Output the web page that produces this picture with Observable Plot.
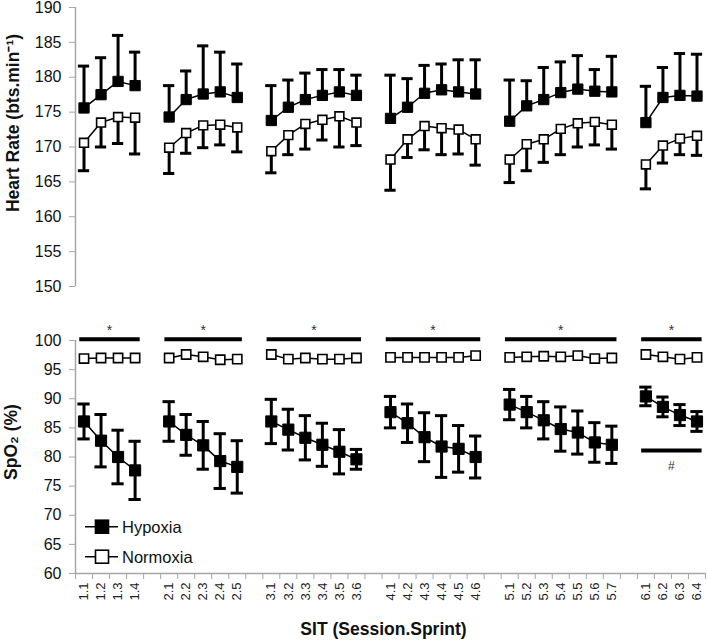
<!DOCTYPE html>
<html><head><meta charset="utf-8">
<script src="https://cdn.jsdelivr.net/npm/d3@7"></script>
<script src="https://cdn.jsdelivr.net/npm/@observablehq/plot@0.6"></script>
<style>
body{margin:0;background:#fff;font-family:"Liberation Sans",Arial,sans-serif;}
#chart{position:relative;width:708px;height:640px;overflow:hidden;}
#chart svg{display:block;}
g[aria-label^="data"]{filter:drop-shadow(1.2px 1.8px 1.2px rgba(0,0,0,0.35));}
</style></head><body><div id="chart"></div>
<script>
// x slots ("" = gap between sessions)
const slots = ["1.1","1.2","1.3","1.4","",
  "2.1","2.2","2.3","2.4","2.5","",
  "3.1","3.2","3.3","3.4","3.5","3.6","",
  "4.1","4.2","4.3","4.4","4.5","4.6","",
  "5.1","5.2","5.3","5.4","5.5","5.6","5.7","",
  "6.1","6.2","6.3","6.4"];
const sprints = slots.filter(s => s !== "");

// Heart rate (bpm)
const hrHyp   = [175.6,177.5,179.4,178.8, 174.3,176.8,177.6,177.9,177.1, 173.8,175.7,176.8,177.4,177.9,177.4,
                 174.1,175.7,177.7,178.2,177.9,177.6, 173.7,175.9,176.8,177.8,178.3,178.0,177.9, 173.5,177.1,177.4,177.3];
const hrHypSD = [6.0,5.3,6.6,4.8, 4.5,4.1,6.9,5.7,4.8, 5.0,3.9,3.8,3.7,3.2,2.9,
                 6.2,4.1,4.0,3.7,4.6,4.9, 5.9,3.6,4.6,4.4,4.8,3.1,5.1, 5.2,4.3,6.0,6.0];
const hrNor   = [170.6,173.5,174.3,174.2, 169.9,172.0,173.1,173.2,172.8, 169.4,171.7,173.3,173.9,174.4,173.5,
                 168.2,171.1,173.0,172.7,172.5,171.1, 168.2,170.4,171.1,172.6,173.4,173.6,173.2, 167.5,170.2,171.2,171.6];
const hrNorSD = [4.0,3.5,3.8,5.2, 3.7,2.9,3.2,2.9,3.5, 3.1,2.8,3.6,2.9,4.4,3.3,
                 4.4,2.6,3.4,3.8,3.5,3.7, 3.3,3.8,3.3,3.7,3.4,3.3,3.5, 3.5,2.5,2.3,2.8];

// SpO2 (%)
const spHyp   = [86.1,82.8,80.0,77.7, 86.1,83.8,82.0,79.3,78.3, 86.1,84.7,83.3,82.1,80.9,79.6,
                 87.7,85.8,83.4,81.8,81.4,80.0, 89.0,87.7,86.3,84.8,84.2,82.5,82.1, 90.4,88.6,87.2,86.1];
const spHypSD = [3.0,4.5,4.6,5.0, 3.4,3.5,4.1,4.7,4.5, 3.8,3.5,3.8,3.7,3.8,1.7,
                 2.7,3.3,4.2,5.3,4.0,3.6, 2.6,2.7,3.2,3.8,3.7,3.4,3.2, 1.6,1.7,1.8,1.7];
const spNor   = [96.9,97.0,97.0,97.0, 97.0,97.6,97.2,96.7,96.8, 97.6,96.8,97.0,96.8,96.8,97.0,
                 97.1,97.1,97.1,97.1,97.1,97.4, 97.1,97.2,97.3,97.2,97.4,96.9,97.0, 97.6,97.2,96.8,97.1];

// annotations
const starSessions = ["1","2","3","4","5","6"];
const hashSessions = ["6"];
const starLevel = 100.2, starTextLevel = 101.7;
const hashLevel = 81.1, hashTextLevel = 78.5;

const hrTicks = d3.range(150, 191, 5);
const spTicks = d3.range(60, 101, 5);
const hrDomain = [150, 190];
const spDomain = [60, 100];

const yTitleTop = "Heart Rate (bts.min\u207B\u00B9)";
const yTitleBottom = "SpO\u2082 (%)";
const xTitle = "SIT (Session.Sprint)";
const legendItems = [{label: "Hypoxia", fill: "#000"}, {label: "Normoxia", fill: "#fff"}];

// ---------- build ----------
const session = s => s.split(".")[0];
const rows = sprints.map((s, i) => ({
  s, pos: slots.indexOf(s), grp: session(s),
  hrHyp: hrHyp[i], hrHypSD: hrHypSD[i], hrNor: hrNor[i], hrNorSD: hrNorSD[i],
  spHyp: spHyp[i], spHypSD: spHypSD[i], spNor: spNor[i]
}));
const span = g => {
  const xs = rows.filter(r => r.grp === g).map(r => r.pos);
  return {g, x1: d3.min(xs), x2: d3.max(xs), mid: (d3.min(xs) + d3.max(xs)) / 2};
};
const starBars = starSessions.map(span);
const hashBars = hashSessions.map(span);

const W = 708, ML = 75, MR = 3;
const xDomain = [-0.5, slots.length - 0.5];
const GRAY = "#a6a6a6";
const FONT = "'Liberation Sans', Arial, sans-serif";
const cap = 0.33;

const connect = (key) => Plot.line(rows, {
  x: d => d.pos, y: d => d[key], z: d => d.grp,
  stroke: "black", strokeWidth: 1.5, fill: "none"
});

const topPlot = Plot.plot({
  width: W, height: 295, marginTop: 7, marginBottom: 9, marginLeft: ML, marginRight: MR,
  x: {domain: xDomain, axis: null},
  y: {domain: hrDomain, axis: null},
  style: {fontFamily: FONT, color: "#000", background: "#fff", overflow: "visible"},
  marks: [
    Plot.ruleX([xDomain[0]], {stroke: GRAY, strokeWidth: 1.5}),
    Plot.axisY({ticks: hrTicks, tickSize: 6, tickPadding: 8, stroke: GRAY, fill: "#111", fontSize: 16, label: null}),
    Plot.text([yTitleTop], {frameAnchor: "left", textAnchor: "middle", lineAnchor: "middle", rotate: -90, dx: -62, dy: -24, fontWeight: "bold", fontSize: 17.5, fill: "#111"}),
    // error bars
    Plot.ruleX(rows, {x: "pos", y1: "hrHyp", y2: d => d.hrHyp + d.hrHypSD, strokeWidth: 3, ariaLabel: "data-err"}),
    Plot.ruleY(rows, {y: d => d.hrHyp + d.hrHypSD, x1: d => d.pos - cap, x2: d => d.pos + cap, strokeWidth: 3, ariaLabel: "data-cap"}),
    Plot.ruleX(rows, {x: "pos", y1: "hrNor", y2: d => d.hrNor - d.hrNorSD, strokeWidth: 3, ariaLabel: "data-err"}),
    Plot.ruleY(rows, {y: d => d.hrNor - d.hrNorSD, x1: d => d.pos - cap, x2: d => d.pos + cap, strokeWidth: 3, ariaLabel: "data-cap"}),
    // lines
    connect("hrHyp"),
    connect("hrNor"),
    // markers
    Plot.dot(rows, {x: "pos", y: "hrHyp", symbol: "square", r: 5.8, fill: "#000", stroke: "#000", strokeWidth: 1, ariaLabel: "data-dot"}),
    Plot.dot(rows, {x: "pos", y: "hrNor", symbol: "square", r: 5.0, fill: "#fff", stroke: "#000", strokeWidth: 1.6, ariaLabel: "data-dot"})
  ]
});

const capB = 0.36;
const bottomPlot = Plot.plot({
  width: W, height: 345, marginTop: 45, marginBottom: 67, marginLeft: ML, marginRight: MR,
  x: {domain: xDomain, axis: null},
  y: {domain: spDomain, axis: null},
  style: {fontFamily: FONT, color: "#000", background: "#fff", overflow: "visible"},
  marks: [
    Plot.ruleX([xDomain[0]], {stroke: GRAY, strokeWidth: 1.5}),
    Plot.ruleY([spDomain[0]], {stroke: GRAY, strokeWidth: 1.5}),
    Plot.axisY({ticks: spTicks, tickSize: 6, tickPadding: 8, stroke: GRAY, fill: "#111", fontSize: 16, label: null}),
    Plot.axisX({ticks: d3.range(slots.length + 1).map(i => i - 0.5), tickSize: 6, tickFormat: () => "", stroke: GRAY, label: null}),
    Plot.axisX({ticks: rows.map(r => r.pos), tickSize: 0, tickPadding: 9, tickRotate: -90, tickFormat: i => slots[i], fill: "#222", fontSize: 13, label: null}),
    Plot.text([yTitleBottom], {frameAnchor: "left", textAnchor: "middle", lineAnchor: "middle", rotate: -90, dx: -64, dy: -15, fontWeight: "bold", fontSize: 17.5, fill: "#111"}),
    Plot.text([xTitle], {frameAnchor: "bottom", textAnchor: "middle", lineAnchor: "middle", dx: -7, dy: 56, fontWeight: "bold", fontSize: 17.5, fill: "#111"}),
    // significance
    Plot.ruleY(starBars, {y: () => starLevel, x1: d => d.x1 - 0.25, x2: d => d.x2 + 0.3, strokeWidth: 4}),
    Plot.text(starBars, {x: "mid", y: () => starTextLevel, text: () => "*", fontSize: 14, fill: "#333"}),
    Plot.ruleY(hashBars, {y: () => hashLevel, x1: d => d.x1 - 0.25, x2: d => d.x2 + 0.3, strokeWidth: 4}),
    Plot.text(hashBars, {x: "mid", y: () => hashTextLevel, text: () => "#", fontSize: 12, fill: "#333"}),
    // error bars (hypoxia, both directions)
    Plot.ruleX(rows, {x: "pos", y1: d => d.spHyp - d.spHypSD, y2: d => d.spHyp + d.spHypSD, strokeWidth: 3, ariaLabel: "data-err"}),
    Plot.ruleY(rows, {y: d => d.spHyp + d.spHypSD, x1: d => d.pos - capB, x2: d => d.pos + capB, strokeWidth: 3, ariaLabel: "data-cap"}),
    Plot.ruleY(rows, {y: d => d.spHyp - d.spHypSD, x1: d => d.pos - capB, x2: d => d.pos + capB, strokeWidth: 3, ariaLabel: "data-cap"}),
    // lines
    connect("spHyp"),
    connect("spNor"),
    // markers
    Plot.dot(rows, {x: "pos", y: "spHyp", symbol: "square", r: 6.3, fill: "#000", stroke: "#000", strokeWidth: 1, ariaLabel: "data-dot"}),
    Plot.dot(rows, {x: "pos", y: "spNor", symbol: "square", r: 5.2, fill: "#fff", stroke: "#000", strokeWidth: 1.6, ariaLabel: "data-dot"})
  ]
});

const chart = document.getElementById("chart");
chart.append(topPlot, bottomPlot);

// legend overlay (inside the SpO2 panel)
const leg = d3.select(chart).append("svg")
  .attr("width", 140).attr("height", 60)
  .style("position", "absolute").style("left", "80px").style("top", "512px")
  .style("font-family", FONT);
const li = leg.selectAll("g").data(legendItems).join("g")
  .attr("transform", (d, i) => `translate(0,${14.7 + i * 30})`);
li.append("line").attr("x1", 5).attr("x2", 38).attr("stroke", "#000").attr("stroke-width", 1.5);
li.append("rect").attr("x", 15.5).attr("y", -6.5).attr("width", 13).attr("height", 13)
  .attr("fill", d => d.fill).attr("stroke", "#000").attr("stroke-width", 1.6);
li.append("text").attr("x", 42).attr("y", 6).attr("font-size", 16.5).attr("fill", "#111").text(d => d.label);
</script></body></html>
